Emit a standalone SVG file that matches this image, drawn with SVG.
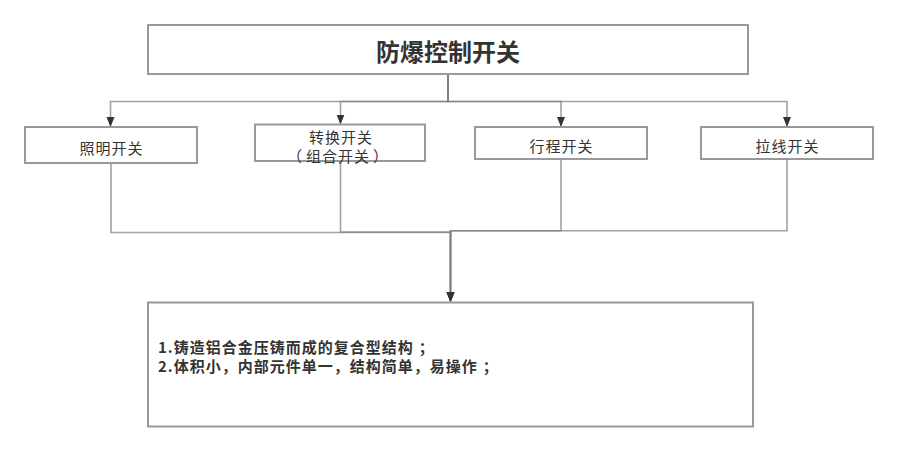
<svg xmlns="http://www.w3.org/2000/svg" width="898" height="452" viewBox="0 0 898 452">
<style>
.box{fill:#fff;stroke:#999;stroke-width:2}
.lbl{font-family:"Noto Sans CJK SC","Liberation Sans",sans-serif;font-size:15px;letter-spacing:1px;fill:#333;text-anchor:middle}
.title{font-family:"Noto Sans CJK SC","Liberation Sans",sans-serif;font-size:24px;font-weight:bold;fill:#333;text-anchor:middle}
.body{font-family:"Noto Sans CJK SC","Liberation Sans",sans-serif;font-size:15px;letter-spacing:1px;font-weight:bold;fill:#333}
.con{fill:none;stroke:#7a7a7a;stroke-opacity:0.7;stroke-width:1.6}
</style>
<defs>
<marker id="arr" markerWidth="10" markerHeight="12" refX="9" refY="5" orient="auto" markerUnits="userSpaceOnUse">
<path d="M0,1 L10,5 L0,9 Z" fill="#333"/>
</marker>
</defs>
<rect width="898" height="452" fill="#fff"/>
<g id="connectors">
<path class="con" d="M448,74 V101.5 H110.5 V126" marker-end="url(#arr)"/>
<path class="con" d="M448,74 V101.5 H340.5 V123.5" marker-end="url(#arr)"/>
<path class="con" d="M448,74 V101.5 H561 V126" marker-end="url(#arr)"/>
<path class="con" d="M448,74 V101.5 H787 V126" marker-end="url(#arr)"/>
<path class="con" d="M111,163 V232.5 H450.5 V301" marker-end="url(#arr)"/>
<path class="con" d="M340.5,161 V232 H450.5 V301" marker-end="url(#arr)"/>
<path class="con" d="M561,159 V230.8 H450.5 V301" marker-end="url(#arr)"/>
<path class="con" d="M787,159 V230.8 H450.5 V301" marker-end="url(#arr)"/>
</g>
<g id="root">
<rect class="box" x="148" y="25" width="600" height="49"/>
<text class="title" x="448" y="61">防爆控制开关</text>
</g>
<g id="n1">
<rect class="box" x="25" y="127" width="172" height="36"/>
<text class="lbl" x="111.5" y="154">照明开关</text>
</g>
<g id="n2">
<rect class="box" x="255" y="124.5" width="170" height="36.5"/>
<text class="lbl" x="341" y="142.5">转换开关</text>
<text class="lbl" x="341" y="161.5"><tspan dx="-3">（</tspan><tspan dx="3">组合开关</tspan><tspan dx="3">）</tspan></text>
</g>
<g id="n3">
<rect class="box" x="475" y="127" width="172" height="32"/>
<text class="lbl" x="561.5" y="151.5">行程开关</text>
</g>
<g id="n4">
<rect class="box" x="701" y="127" width="172" height="32"/>
<text class="lbl" x="787.5" y="151.5">拉线开关</text>
</g>
<g id="desc">
<rect class="box" x="148" y="302.5" width="605" height="124"/>
<text class="body" x="158" y="352.5">1.铸造铝合金压铸而成的复合型结构<tspan dx="5">；</tspan></text>
<text class="body" x="158" y="371.5">2.体积小，内部元件单一，结构简单，易操作<tspan dx="5">；</tspan></text>
</g>
</svg>
